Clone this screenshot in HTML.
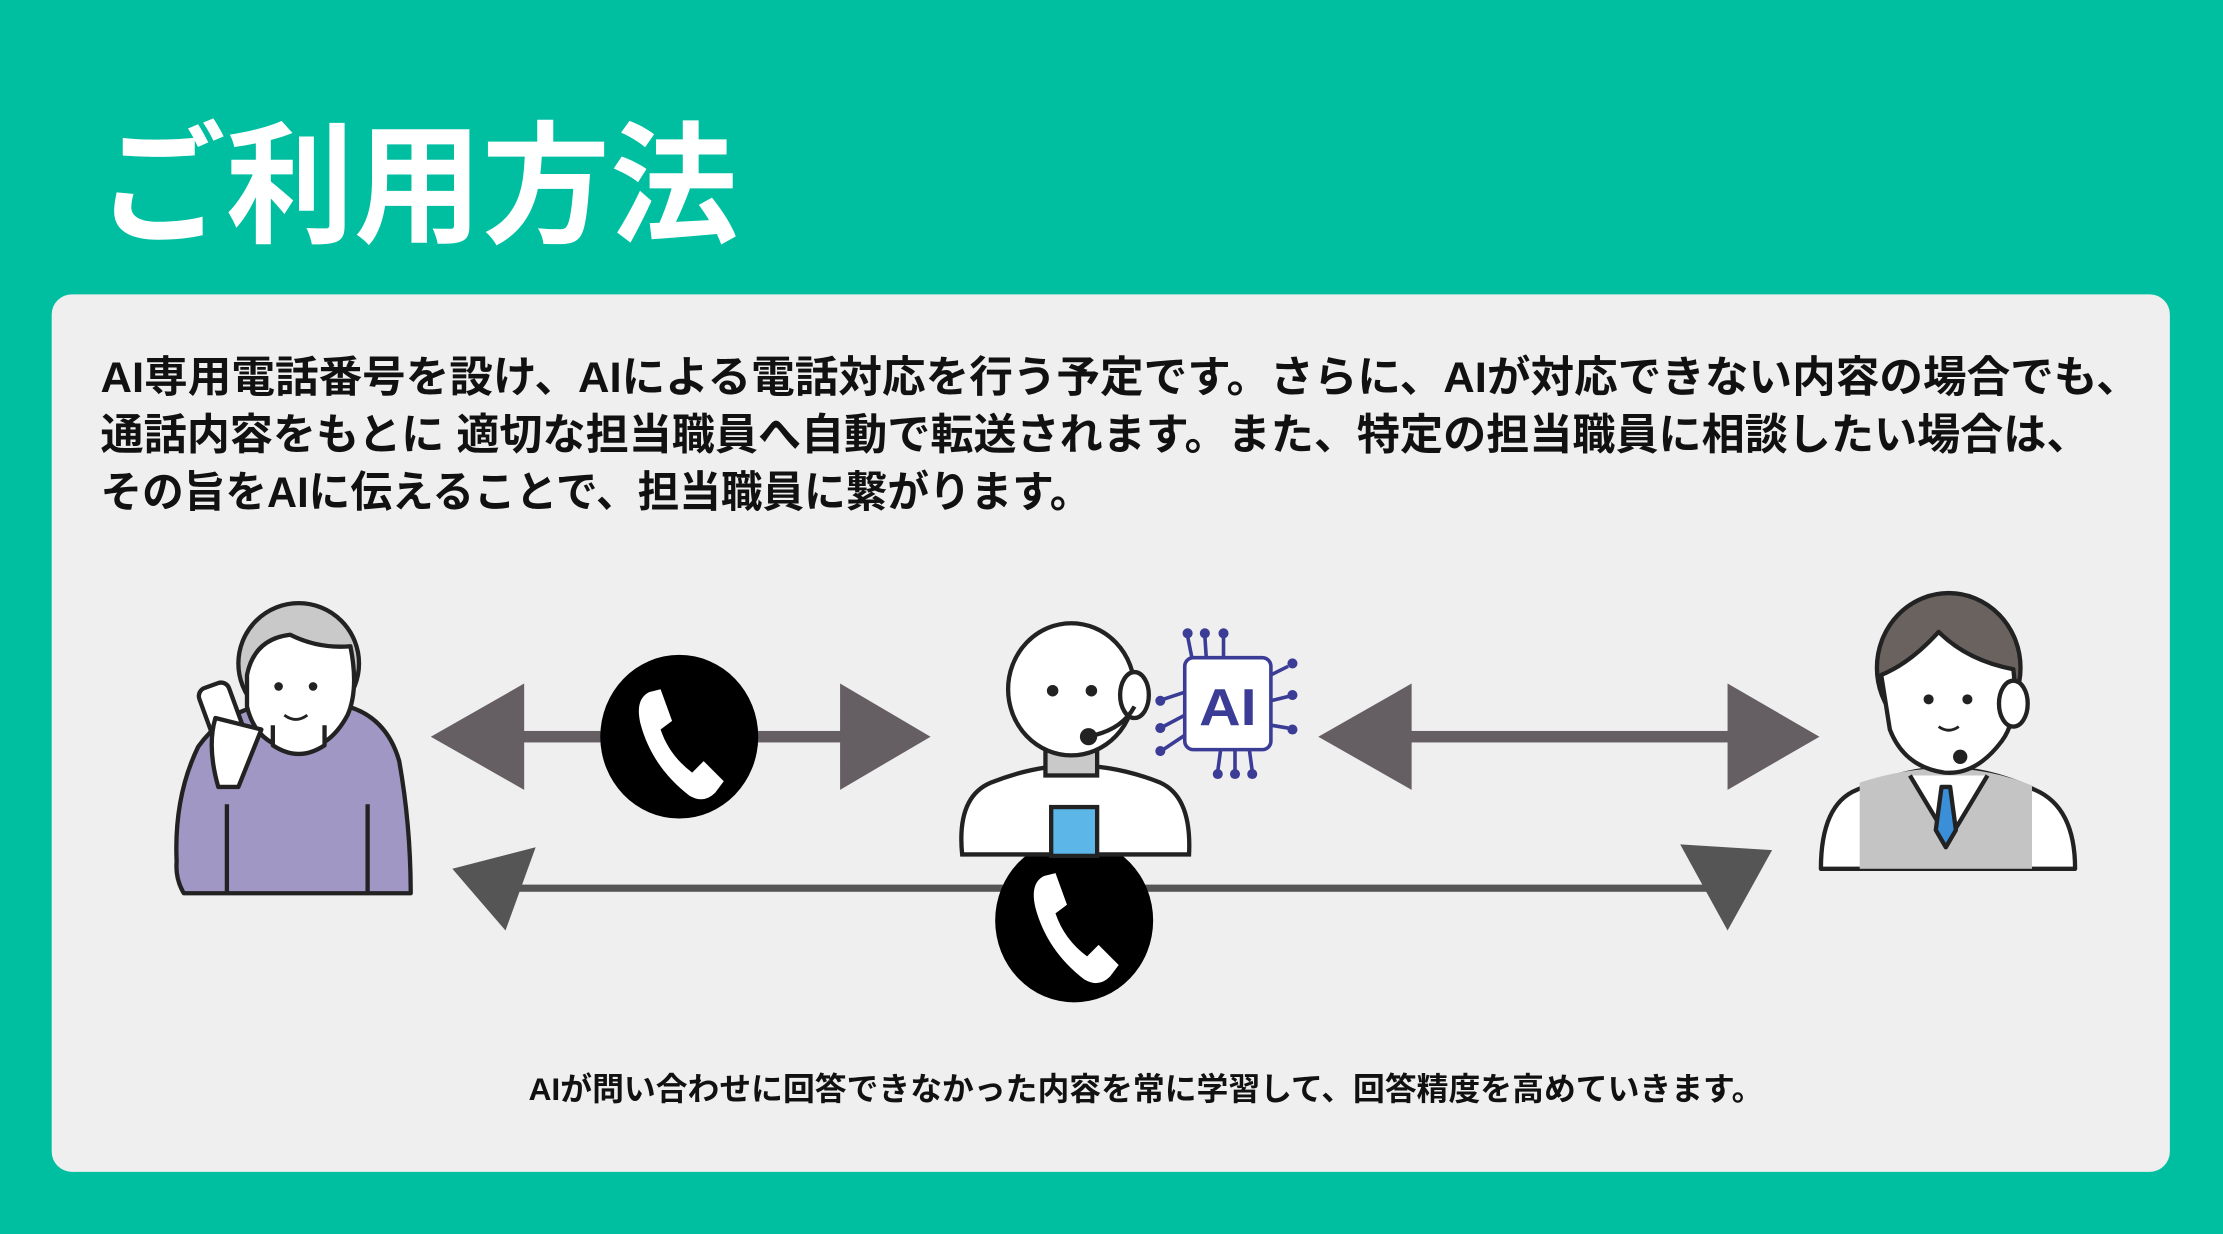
<!DOCTYPE html>
<html><head><meta charset="utf-8"><style>
html,body{margin:0;padding:0;background:#00bfa0;}
svg{display:block;}
text{font-family:"Liberation Sans","Noto Sans CJK JP",sans-serif;font-weight:bold;}
</style></head><body>
<svg width="2223" height="1234" viewBox="0 0 1548 859.3" preserveAspectRatio="none" xmlns="http://www.w3.org/2000/svg">
<rect width="1548" height="860" fill="#00bfa0"/>
<text x="68" y="162" font-size="92" fill="#fff" textLength="446" lengthAdjust="spacingAndGlyphs">ご利用方法</text>
<rect x="36" y="205" width="1475" height="611" rx="14" fill="#efefef"/>
<g font-size="30" fill="#111">
<text x="70" y="273" textLength="1420" lengthAdjust="spacingAndGlyphs">AI専用電話番号を設け、AIによる電話対応を行う予定です。さらに、AIが対応できない内容の場合でも、</text>
<text x="70" y="313" textLength="1385" lengthAdjust="spacingAndGlyphs">通話内容をもとに 適切な担当職員へ自動で転送されます。また、特定の担当職員に相談したい場合は、</text>
<text x="70" y="353" textLength="690" lengthAdjust="spacingAndGlyphs">その旨をAIに伝えることで、担当職員に繋がります。</text>
</g>
<text x="368" y="766" font-size="22" fill="#111" textLength="860" lengthAdjust="spacingAndGlyphs">AIが問い合わせに回答できなかった内容を常に学習して、回答精度を高めていきます。</text>

<g fill="#655e63">
<rect x="360" y="509" width="230" height="8"/>
<polygon points="300,513 365,476 365,550"/>
<polygon points="648,513 585,476 585,550"/>
<rect x="975" y="509" width="235" height="8"/>
<polygon points="918,513 983,476 983,550"/>
<polygon points="1267,513 1203,476 1203,550"/>
</g>
<g fill="#555">
<rect x="360" y="616" width="830" height="5"/>
<polygon points="315,605 373,590 352,648"/>
<polygon points="1170,588 1234,592 1203,648"/>
</g>

<g>
<ellipse cx="473" cy="513" rx="55" ry="57" fill="#000"/>
<path d="M452,482 q-10,5 -6,22 q8,30 34,50 q10,6 18,-2 l6,-8 l-14,-14 l-8,8 q-16,-12 -22,-30 l8,-6 l-8,-22 z" fill="#fff"/>
<ellipse cx="748" cy="641" rx="55" ry="57" fill="#000"/>
<path d="M727,610 q-10,5 -6,22 q8,30 34,50 q10,6 18,-2 l6,-8 l-14,-14 l-8,8 q-16,-12 -22,-30 l8,-6 l-8,-22 z" fill="#fff"/>
</g>

<g stroke="#222" stroke-width="3" stroke-linejoin="round">
<path d="M123,600 q-2,-45 15,-80 q20,-28 55,-30 h40 q35,5 45,40 q8,45 8,92 h-158 q-6,-10 -5,-22 z" fill="#a097c4"/>
<ellipse cx="208" cy="462" rx="42" ry="42" fill="#c9c9c9"/>
<path d="M172,470 q5,-25 30,-28 q20,10 42,8 q6,30 -2,48 q-14,26 -38,24 q-26,-4 -32,-30 z" fill="#fff"/>
<path d="M190,505 v14 q18,12 36,0 v-14" fill="#fff"/>
<rect x="144" y="476" width="22" height="46" rx="6" fill="#fff" transform="rotate(-20 155 499)"/>
<path d="M150,500 q-6,20 2,48 l14,0 q8,-20 16,-40 z" fill="#fff"/>
<line x1="158" y1="560" x2="158" y2="622"/><line x1="256" y1="560" x2="256" y2="622"/>
</g>
<g fill="#222"><circle cx="194" cy="478" r="3"/><circle cx="218" cy="478" r="3"/></g>
<path d="M198,498 q8,6 16,0" stroke="#222" stroke-width="2" fill="none"/>

<g stroke="#222" stroke-width="3">
<path d="M670,595 q-4,-40 20,-50 q30,-12 58,-12 q30,0 60,12 q22,10 20,50 z" fill="#fff"/>
<rect x="728" y="520" width="36" height="20" fill="#c9c9c9"/>
<ellipse cx="746" cy="480" rx="44" ry="46" fill="#fff"/>
<ellipse cx="790" cy="484" rx="10" ry="16" fill="#fff"/>
<rect x="732" y="562" width="32" height="34" fill="#5cb6e8"/>
</g>
<g fill="#222"><circle cx="733" cy="481" r="4"/><circle cx="760" cy="481" r="4"/><circle cx="758" cy="513" r="6"/></g>
<path d="M762,512 q20,-5 28,-20" stroke="#222" stroke-width="3" fill="none"/>

<g stroke="#3a3c96" stroke-width="2.5" fill="none">
<rect x="825" y="458" width="60" height="64" rx="6" fill="#fff"/>
<path d="M830,458 l-3,-15 M840,458 l-1,-15 M852,458 l0,-15 M870,522 l2,15 M860,522 l0,15 M850,522 l-2,15 M885,470 l12,-6 M885,488 l12,-3 M885,505 l12,2 M825,482 l-15,5 M825,498 l-15,8 M825,512 l-15,10"/>
</g>
<g fill="#3a3c96">
<circle cx="827" cy="441" r="3.5"/><circle cx="839" cy="441" r="3.5"/><circle cx="852" cy="441" r="3.5"/>
<circle cx="848" cy="539" r="3.5"/><circle cx="860" cy="539" r="3.5"/><circle cx="872" cy="539" r="3.5"/>
<circle cx="900" cy="462" r="3.5"/><circle cx="900" cy="484" r="3.5"/><circle cx="900" cy="508" r="3.5"/>
<circle cx="808" cy="488" r="3.5"/><circle cx="808" cy="507" r="3.5"/><circle cx="808" cy="523" r="3.5"/>
<text x="835" y="505" font-size="36" fill="#3a3c96" textLength="40" lengthAdjust="spacingAndGlyphs">AI</text>
</g>

<g stroke="#222" stroke-width="3" stroke-linejoin="round">
<path d="M1268,605 q0,-45 25,-55 q35,-15 62,-15 q30,0 62,15 q28,12 28,55 z" fill="#fff"/>
<path d="M1295,545 q30,-10 60,-10 q30,0 60,12 v58 h-120 z" fill="#c4c4c4" stroke="none"/>
<path d="M1330,540 l27,45 l27,-45" fill="#fff"/>
<path d="M1352,548 l6,0 l4,30 l-7,12 l-7,-12 z" fill="#3a8fd8"/>
<ellipse cx="1357" cy="465" rx="50" ry="52" fill="#6a625f"/>
<path d="M1310,470 q20,-8 40,-30 q20,20 52,26 q4,34 -8,50 q-18,24 -40,22 q-28,-4 -38,-30 z" fill="#fff"/>
<ellipse cx="1402" cy="490" rx="10" ry="16" fill="#fff"/>
</g>
<g fill="#222"><circle cx="1343" cy="487" r="3.5"/><circle cx="1370" cy="487" r="3.5"/><circle cx="1365" cy="527" r="5"/></g>
<path d="M1350,506 q7,5 14,0" stroke="#222" stroke-width="2" fill="none"/>
</svg>
</body></html>
